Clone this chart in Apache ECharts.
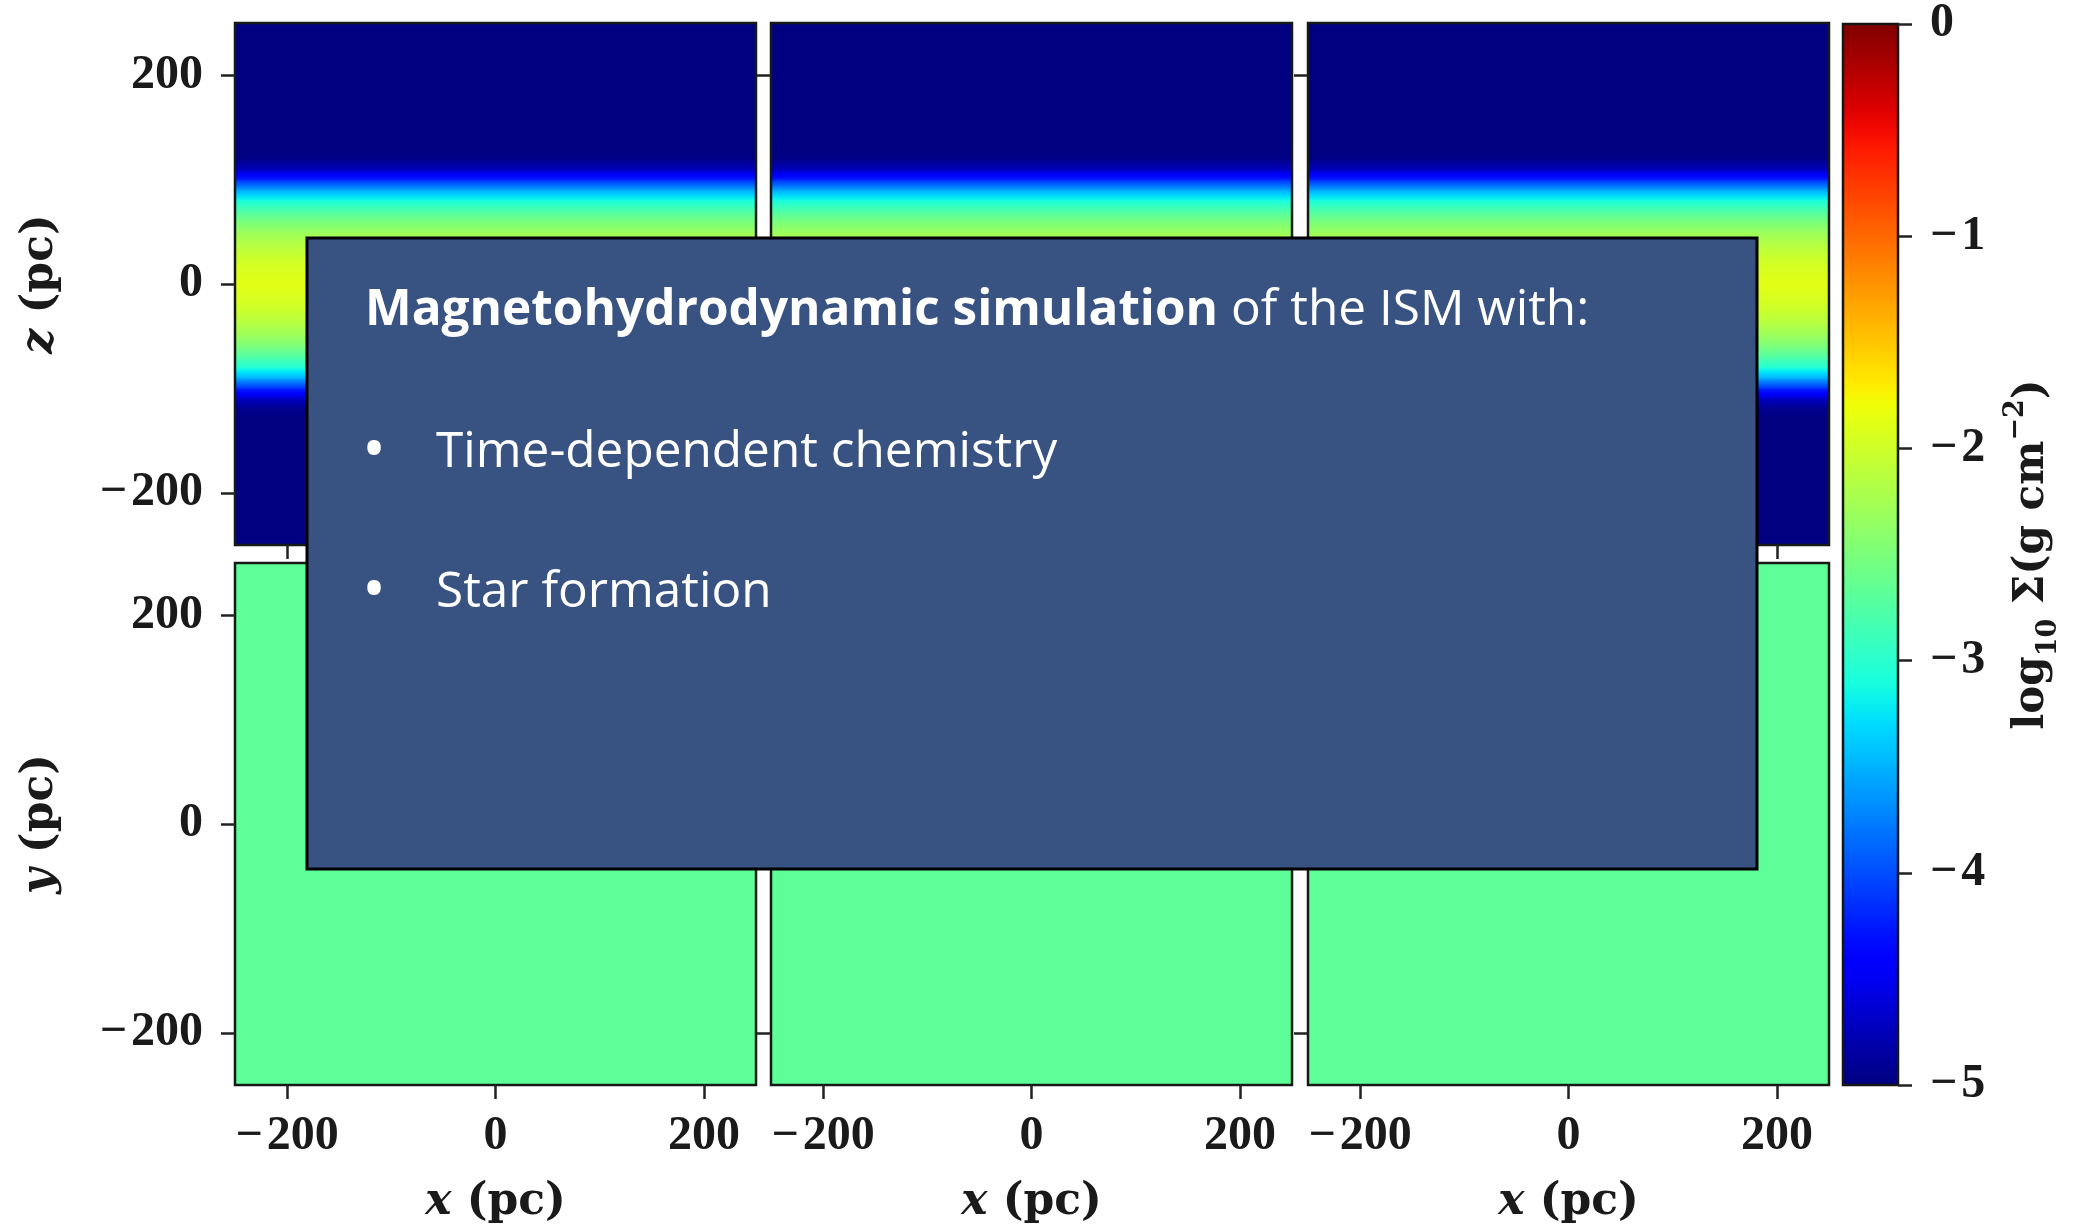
<!DOCTYPE html>
<html><head><meta charset="utf-8">
<script src="https://cdn.jsdelivr.net/npm/echarts@6/dist/echarts.min.js"></script>
<style>html,body{margin:0;padding:0;background:#fff}#c{width:2074px;height:1226px}</style>
</head><body><div id="c"></div>
<script>
// ---------------- data ----------------
const axisTickValues = [-200, 0, 200];          // pc, tick labels on x/y/z axes
const boxExtent = [-250, 250];                   // simulation box (pc)
const cbarTicks = [0, -1, -2, -3, -4, -5];       // colorbar tick labels
const cbarRange = [-5, 0];                       // log10 Sigma range
// edge-on view: log10 Sigma as a function of height z (pc)
const zSamples = [-250,-240,-230,-220,-210,-200,-190,-180,-170,-160,-150,-140,-130,
  -120,-110,-100,-90,-80,-70,-60,-50,-40,-30,-20,-10,0,10,20,30,40,50,60,70,80,90,100,110,120,
  130,140,150,160,170,180,190,200,210,220,230,240,250];
const edgeOnLogSigma = [-5,-5,-5,-5,-5,-5,-5,-5,-5,-5,-5,-5,-5,
  -4.95,-4.70,-4.15,-3.50,-3.05,-2.75,-2.50,-2.32,-2.18,-2.07,-1.98,-1.92,-1.88,-1.92,-1.98,-2.07,-2.18,-2.32,-2.52,-2.78,-3.10,-3.55,-4.20,-4.75,-4.97,
  -5,-5,-5,-5,-5,-5,-5,-5,-5,-5,-5,-5,-5];
// face-on view: uniform log10 Sigma in each of the three panels
const faceOnLogSigma = [-2.68, -2.68, -2.68];
const overlayTitleBold = 'Magnetohydrodynamic simulation';
const overlayTitleRest = ' of the ISM with:';
const overlayBullets = ['Time-dependent chemistry', 'Star formation'];

// ---------------- colormap (matplotlib jet) ----------------
function interp(t, xs, ys) {
  if (t <= xs[0]) return ys[0];
  for (let k = 1; k < xs.length; k++) {
    if (t <= xs[k]) return ys[k-1] + (ys[k]-ys[k-1]) * (t - xs[k-1]) / (xs[k] - xs[k-1]);
  }
  return ys[ys.length-1];
}
function jet(v) {
  const t = Math.max(0, Math.min(1, (v - cbarRange[0]) / (cbarRange[1] - cbarRange[0])));
  const r = interp(t, [0,0.35,0.66,0.89,1], [0,0,1,1,0.5]);
  const g = interp(t, [0,0.125,0.375,0.64,0.91,1], [0,0,1,1,0,0]);
  const b = interp(t, [0,0.11,0.34,0.65,1], [0.5,1,1,0,0]);
  return 'rgb(' + Math.round(r*255) + ',' + Math.round(g*255) + ',' + Math.round(b*255) + ')';
}

// ---------------- layout ----------------
const panelLeft = [235, 771, 1308];
const panelW = 521, panelH = 522;
const rowTop = [23, 563];
const cbar = {left: 1843, top: 23, width: 55, height: 1062};
const TICK_FONT = '"Liberation Serif"';
const TITLE_FONT = '"DejaVu Serif"';
const INK = '#1a1a1a';
const TICK_SIZE = 48;
const TITLE_SIZE = 44;

const fmt = v => (v < 0 ? '\u2212\u200a' + Math.abs(v) : String(v));

const grids = [], xAxes = [], yAxes = [], series = [];
function nameStyle() {
  return {fontFamily: TITLE_FONT, fontSize: TITLE_SIZE, fontWeight: 'bold', color: INK,
    rich: {i: {fontFamily: TITLE_FONT, fontSize: TITLE_SIZE, fontWeight: 'bold', fontStyle: 'italic', color: INK},
           n: {fontFamily: TITLE_FONT, fontSize: TITLE_SIZE, fontWeight: 'bold', color: INK}}};
}
for (let row = 0; row < 2; row++) {
  for (let p = 0; p < 3; p++) {
    const gi = grids.length;
    grids.push({left: panelLeft[p], top: rowTop[row], width: panelW, height: panelH,
      show: true, backgroundColor: 'transparent', borderColor: '#151a16', borderWidth: 2.5, z: 10});
    const tick = {show: true, customValues: axisTickValues, length: 14, inside: false,
      lineStyle: {color: '#222', width: 2.5}};
    xAxes.push({type: 'value', gridIndex: gi, position: 'bottom', min: boxExtent[0], max: boxExtent[1],
      axisLine: {show: false, onZero: false}, splitLine: {show: false}, axisTick: tick,
      axisLabel: {show: row === 1, customValues: axisTickValues, formatter: fmt, margin: 28,
        fontFamily: TICK_FONT, fontSize: TICK_SIZE, fontWeight: 'bold', color: INK},
      name: row === 1 ? '{i|x}{n| (pc)}' : '', nameLocation: 'middle', nameGap: 96,
      nameTextStyle: nameStyle(), z: 10});
    yAxes.push({type: 'value', gridIndex: gi, position: 'left', min: boxExtent[0], max: boxExtent[1],
      axisLine: {show: false, onZero: false}, splitLine: {show: false}, axisTick: tick,
      axisLabel: {show: p === 0, customValues: axisTickValues, formatter: fmt, margin: 32,
        fontFamily: TICK_FONT, fontSize: TICK_SIZE, fontWeight: 'bold', color: INK},
      name: p === 0 ? (row === 0 ? '{i|z}{n| (pc)}' : '{i|y}{n| (pc)}') : '',
      nameLocation: 'middle', nameGap: 172, nameTextStyle: nameStyle(), z: 10});
    if (row === 0) {
      series.push({type: 'custom', xAxisIndex: gi, yAxisIndex: gi, clip: true, silent: true,
        data: zSamples.map((z, i) => [z, edgeOnLogSigma[i]]),
        renderItem: function (params, api) {
          const i = params.dataIndex;
          if (i >= zSamples.length - 1) return null;
          const z0 = api.value(0), v0 = api.value(1);
          const z1 = zSamples[i+1], v1 = edgeOnLogSigma[i+1];
          const pTop = api.coord([boxExtent[0], z1]);
          const pBot = api.coord([boxExtent[1], z0]);
          const stops = [];
          for (let k = 0; k <= 4; k++) { const s = k/4; stops.push({offset: s, color: jet(v1 + (v0 - v1) * s)}); }
          return {type: 'rect', shape: {x: pTop[0], y: pTop[1] - 0.5, width: pBot[0] - pTop[0], height: pBot[1] - pTop[1] + 1},
            style: {fill: {type: 'linear', x: 0, y: 0, x2: 0, y2: 1, colorStops: stops}}};
        }});
    } else {
      series.push({type: 'custom', xAxisIndex: gi, yAxisIndex: gi, clip: true, silent: true,
        data: [[faceOnLogSigma[p]]],
        renderItem: function (params, api) {
          const a = api.coord([boxExtent[0], boxExtent[1]]);
          const b = api.coord([boxExtent[1], boxExtent[0]]);
          return {type: 'rect', shape: {x: a[0], y: a[1], width: b[0] - a[0], height: b[1] - a[1]},
            style: {fill: jet(api.value(0))}};
        }});
    }
  }
}
// colorbar
const cgi = grids.length;
grids.push({left: cbar.left, top: cbar.top, width: cbar.width, height: cbar.height,
  show: true, backgroundColor: 'transparent', borderColor: '#151515', borderWidth: 2.5, z: 10});
xAxes.push({type: 'value', gridIndex: cgi, min: 0, max: 1, show: false});
yAxes.push({type: 'value', gridIndex: cgi, position: 'right', min: cbarRange[0], max: cbarRange[1], interval: 1,
  axisLine: {show: false, onZero: false}, splitLine: {show: false},
  axisTick: {show: true, length: 14, inside: false, lineStyle: {color: '#222', width: 2.5}},
  axisLabel: {margin: 32, formatter: v => (cbarTicks.indexOf(v) >= 0 ? fmt(v) : ''), fontFamily: TICK_FONT, fontSize: TICK_SIZE, fontWeight: 'bold', color: INK},
  name: '{n|log}{sub|10}{n| \u03a3(g cm}{sup|\u22122}{n|)}', nameLocation: 'middle', nameGap: 104,
  nameTextStyle: {fontFamily: TITLE_FONT, fontSize: 42, fontWeight: 'bold', color: INK,
    rich: {n: {fontFamily: TITLE_FONT, fontSize: 42, fontWeight: 'bold', color: INK, lineHeight: 60},
           sub: {fontFamily: TITLE_FONT, fontSize: 27, fontWeight: 'bold', color: INK, verticalAlign: 'bottom', lineHeight: 27},
           sup: {fontFamily: TITLE_FONT, fontSize: 27, fontWeight: 'bold', color: INK, verticalAlign: 'top', lineHeight: 27}}},
  z: 10});
series.push({type: 'custom', xAxisIndex: cgi, yAxisIndex: cgi, clip: true, silent: true,
  data: [[cbarRange[0], cbarRange[1]]],
  renderItem: function (params, api) {
    const top = api.coord([0, api.value(1)]);
    const bot = api.coord([1, api.value(0)]);
    const stops = [];
    for (let k = 0; k <= 50; k++) { const s = k / 50; stops.push({offset: s, color: jet(cbarRange[1] - s * (cbarRange[1] - cbarRange[0]))}); }
    return {type: 'rect', shape: {x: top[0], y: top[1], width: bot[0] - top[0], height: bot[1] - top[1]},
      style: {fill: {type: 'linear', x: 0, y: 0, x2: 0, y2: 1, colorStops: stops}}};
  }});

// overlay text box
const OV_FONT = '"Open Sans"';
const ovText = (extra) => Object.assign({fill: '#ffffff', fontFamily: OV_FONT, fontSize: 49.5}, extra);
const graphic = [
  {type: 'rect', z: 100, silent: true, shape: {x: 307, y: 238, width: 1450, height: 631},
    style: {fill: '#385281', stroke: '#000000', lineWidth: 3}},
  {type: 'text', z: 101, silent: true, x: 365, y: 311,
    style: {text: '{b|' + overlayTitleBold + '}{r|' + overlayTitleRest + '}', verticalAlign: 'middle',
      rich: {b: ovText({fontWeight: 'bold'}), r: ovText({})}}}
];
overlayBullets.forEach((t, i) => {
  const y = 453 + i * 140;
  graphic.push({type: 'text', z: 101, silent: true, x: 374, y: y, style: ovText({text: '\u2022', fontSize: 64, verticalAlign: 'middle', align: 'center'})});
  graphic.push({type: 'text', z: 101, silent: true, x: 436, y: y, style: ovText({text: t, verticalAlign: 'middle'})});
});

const chart = echarts.init(document.getElementById('c'), null, {renderer: 'canvas'});
chart.setOption({animation: false, backgroundColor: '#ffffff', grid: grids, xAxis: xAxes, yAxis: yAxes, series: series, graphic: graphic});
</script>
</body></html>
